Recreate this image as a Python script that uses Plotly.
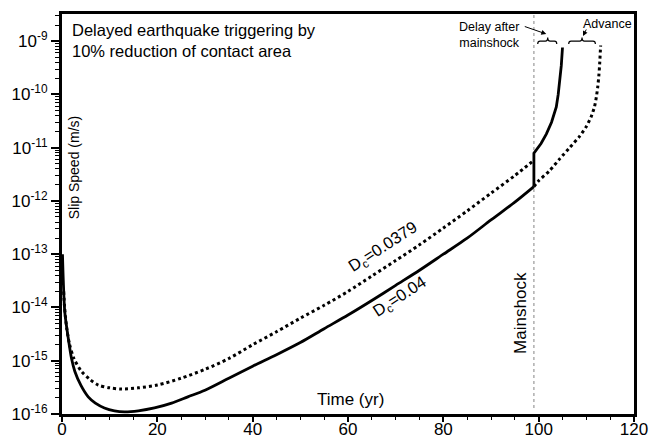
import plotly.graph_objects as go

# ---- data ----
# Solid curve, D_c = 0.04: before the mainshock
t_dc040 = [0.1, 0.27, 0.6, 1.3, 2.0, 2.7, 4.0, 5.5, 7.0, 8.9, 11.0, 13.1, 16.0, 19.4, 23.0,
           26.4, 30, 35, 40, 45, 50, 55, 60, 65, 70, 75, 80, 85, 90, 95, 99]
v_dc040 = [1.0e-13, 3.2e-14, 7.9e-15, 2.7e-15, 1.1e-15, 6.3e-16, 3.4e-16, 2.1e-16, 1.6e-16,
           1.3e-16, 1.15e-16, 1.1e-16, 1.15e-16, 1.3e-16, 1.6e-16, 2.1e-16, 2.8e-16, 4.7e-16,
           7.9e-16, 1.3e-15, 2.2e-15, 4.0e-15, 7.2e-15, 1.35e-14, 2.6e-14, 5.0e-14, 1.0e-13,
           2.0e-13, 4.4e-13, 9.5e-13, 1.86e-12]
# Solid curve, D_c = 0.04: step at the mainshock and acceleration to failure
t_dc040_post = [99, 99, 100.5, 101.6, 102.7, 103.7, 104.1, 104.5, 104.75, 105.0]
v_dc040_post = [1.86e-12, 7.9e-12, 1.2e-11, 1.8e-11, 3.0e-11, 5.8e-11, 1.0e-10, 1.9e-10,
                3.5e-10, 7.6e-10]

# Dotted curve, D_c = 0.0379 (up to the mainshock)
t_dc0379 = [0.35, 0.55, 1.0, 1.6, 2.5, 4.1, 5.8, 7.6, 10.0, 12.5, 16, 20, 25, 30, 35, 40,
            45, 50, 55, 60, 65, 70, 75, 80, 85, 90, 95, 99]
v_dc0379 = [2.0e-14, 1.0e-14, 4.0e-15, 2.0e-15, 1.1e-15, 6.3e-16, 4.5e-16, 3.5e-16, 3.1e-16,
            2.95e-16, 3.1e-16, 3.5e-16, 4.7e-16, 6.9e-16, 1.1e-15, 2.0e-15, 3.5e-15, 6.3e-15,
            1.1e-14, 2.0e-14, 3.9e-14, 7.6e-14, 1.5e-13, 3.1e-13, 6.5e-13, 1.4e-12, 3.0e-12,
            5.8e-12]

# Dotted continuation after the mainshock
t_after = [99, 100, 102.3, 104.5, 106.5, 108.5, 110.0, 111.0, 111.7, 112.1, 112.4, 112.65,
           112.8, 113.0]
v_after = [1.86e-12, 2.4e-12, 3.7e-12, 6.3e-12, 1.0e-11, 1.6e-11, 2.5e-11, 3.8e-11, 5.8e-11,
           8.9e-11, 1.4e-10, 2.4e-10, 3.8e-10, 8.3e-10]

mainshock_t = 99
x_ticks = [0, 20, 40, 60, 80, 100, 120]
y_exps = [-16, -15, -14, -13, -12, -11, -10, -9]

FONT = "Liberation Sans, Arial, Helvetica, sans-serif"

fig = go.Figure()
dot = dict(color="black", width=3, dash="dot")
sol = dict(color="black", width=2.8)
fig.add_trace(go.Scatter(x=t_dc0379, y=v_dc0379, mode="lines",
                         line=dict(**dot, shape="spline", smoothing=0.8), hoverinfo="skip"))
fig.add_trace(go.Scatter(x=t_after, y=v_after, mode="lines",
                         line=dict(**dot, shape="spline", smoothing=0.6), hoverinfo="skip"))
fig.add_trace(go.Scatter(x=t_dc040, y=v_dc040, mode="lines",
                         line=dict(**sol, shape="spline", smoothing=0.8), hoverinfo="skip"))
fig.add_trace(go.Scatter(x=t_dc040_post, y=v_dc040_post, mode="lines", line=sol,
                         hoverinfo="skip"))

y_minor = [m * 10.0 ** e for e in range(-16, -8) for m in range(2, 10)]

# the page body adds an 8px offset, so margins are reduced on the top/left accordingly
fig.update_layout(
    width=664, height=439,
    margin=dict(l=54, r=38, t=6, b=33),
    paper_bgcolor="white", plot_bgcolor="white",
    showlegend=False,
    font=dict(family=FONT, size=17, color="black"),
    xaxis=dict(range=[0, 120], tickvals=x_ticks, ticks="outside", ticklen=5, tickwidth=1.5,
               tickcolor="black", showgrid=False, zeroline=False, showline=True,
               linewidth=3, linecolor="black", mirror=True, automargin=False,
               ticklabelstandoff=-7,
               tickfont=dict(size=17, family=FONT),
               minor=dict(dtick=5, ticks="outside", ticklen=3, tickwidth=1, tickcolor="black")),
    yaxis=dict(type="log", range=[-16, -8.49],
               tickvals=[10.0 ** e for e in y_exps],
               ticktext=["10<sup>%d</sup>" % e for e in y_exps],
               ticks="outside", ticklen=8, tickwidth=1.5, tickcolor="black",
               showgrid=False, zeroline=False, showline=True, linewidth=3,
               linecolor="black", mirror=True, automargin=False,
               tickfont=dict(size=17, family=FONT),
               minor=dict(tickvals=y_minor, ticks="outside", ticklen=4, tickwidth=1,
                          tickcolor="black")),
)

# mainshock line
fig.add_shape(type="line", x0=mainshock_t, x1=mainshock_t, y0=0.015, y1=1, xref="x",
              yref="paper", line=dict(color="#999999", width=1.2, dash="dot"), layer="below")


def brace(xa, xb, xm, y_end=0.925, y_mid=0.932, y_tip=0.941, d=0.5):
    return (f"M {xa},{y_end} Q {xa},{y_mid} {xa+d},{y_mid} L {xm-d},{y_mid} "
            f"Q {xm},{y_mid} {xm},{y_tip} Q {xm},{y_mid} {xm+d},{y_mid} "
            f"L {xb-d},{y_mid} Q {xb},{y_mid} {xb},{y_end}")


fig.add_shape(type="path", xref="x", yref="paper", path=brace(99.8, 103.8, 101.9),
              line=dict(color="black", width=1.2))
fig.add_shape(type="path", xref="x", yref="paper", path=brace(106.3, 111.9, 109.1),
              line=dict(color="black", width=1.2))

ann = []
ann.append(dict(text="Delayed earthquake triggering by<br>10% reduction of contact area",
                x=1.6, y=0.934, xref="x", yref="paper", align="left",
                xanchor="left", yanchor="middle", showarrow=False, font=dict(size=16.5)))
ann.append(dict(text="Time (yr)", x=60.5, y=0.0375, xref="x", yref="paper",
                xanchor="center", yanchor="middle", showarrow=False, font=dict(size=17)))
ann.append(dict(text="Slip Speed (m/s)", x=2.45, y=0.616, xref="x", yref="paper",
                textangle=-90, xanchor="center", yanchor="middle", showarrow=False,
                font=dict(size=14)))
ann.append(dict(text="Mainshock", x=96.2, y=-14.11, xref="x", yref="y", textangle=-90,
                xanchor="center", yanchor="middle", showarrow=False, font=dict(size=17)))
ann.append(dict(text="D<sub>c</sub>=0.0379", x=67.3, y=-12.86, xref="x", yref="y",
                textangle=-33, xanchor="center", yanchor="middle", showarrow=False,
                font=dict(size=16.5)))
ann.append(dict(text="D<sub>c</sub>=0.04", x=70.8, y=-13.80, xref="x", yref="y",
                textangle=-33, xanchor="center", yanchor="middle", showarrow=False,
                font=dict(size=16.5)))
ann.append(dict(text="Delay after<br>mainshock", x=89.7, y=0.9475, xref="x", yref="paper",
                xanchor="center", yanchor="middle", showarrow=False, font=dict(size=12.5)))
ann.append(dict(text="Advance", x=114.5, y=0.975, xref="x", yref="paper",
                xanchor="center", yanchor="middle", showarrow=False, font=dict(size=12.5)))
# arrows
ann.append(dict(text="", x=101.6, y=0.95, xref="x", yref="paper", showarrow=True,
                ax=-23, ay=-8, arrowhead=2, arrowsize=1, arrowwidth=1, arrowcolor="black"))
ann.append(dict(text="", x=109.3, y=0.945, xref="x", yref="paper", showarrow=True,
                ax=4, ay=-8, arrowhead=2, arrowsize=1, arrowwidth=1, arrowcolor="black"))
fig.update_layout(annotations=ann)

fig.write_html("out.html")
